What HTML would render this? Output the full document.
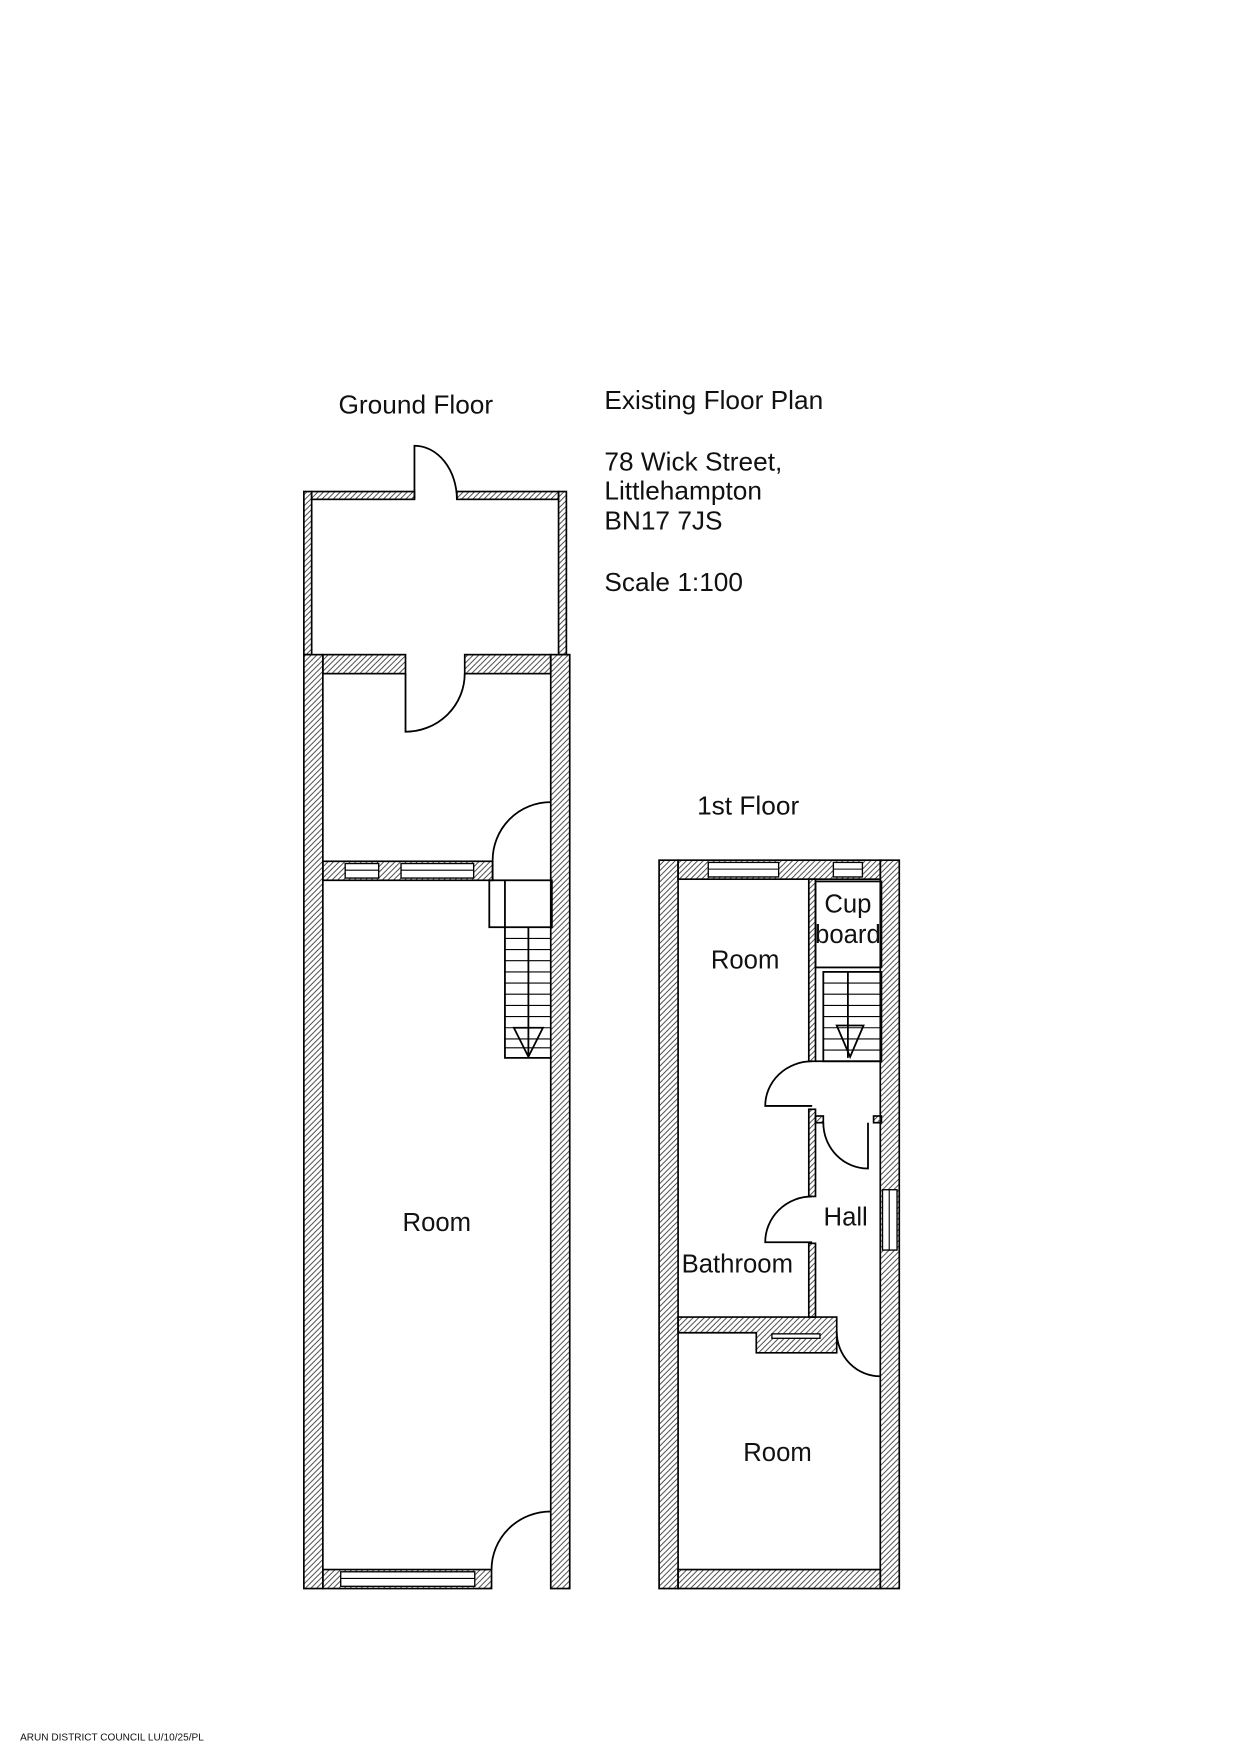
<!DOCTYPE html>
<html><head><meta charset="utf-8"><style>
html,body{margin:0;padding:0;background:#fff;}
svg{display:block;}
text{font-family:"Liberation Sans",Arial,sans-serif;fill:#111;}
</style></head><body>
<svg width="1240" height="1755" viewBox="0 0 1110 1571" xmlns="http://www.w3.org/2000/svg">
<defs>
<pattern id="h" patternUnits="userSpaceOnUse" width="5" height="5">
<line x1="0" y1="5" x2="5" y2="0" stroke="#333" stroke-width="0.8"/>
<line x1="-1" y1="1" x2="1" y2="-1" stroke="#333" stroke-width="0.8"/>
<line x1="4" y1="6" x2="6" y2="4" stroke="#333" stroke-width="0.8"/>
</pattern>
</defs>
<rect width="1110" height="1571" fill="#fff"/>

<text x="303" y="370" font-size="23.5">Ground Floor</text>
<text x="541" y="366" font-size="23.5">Existing Floor Plan</text>
<text x="541" y="421" font-size="23.5">78 Wick Street,</text>
<text x="541" y="447" font-size="23.5">Littlehampton</text>
<text x="541" y="474" font-size="23.5">BN17 7JS</text>
<text x="541" y="529" font-size="23.5">Scale 1:100</text>
<text x="624" y="729" font-size="23.5">1st Floor</text>
<text x="18" y="1558" font-size="9">ARUN DISTRICT COUNCIL LU/10/25/PL</text>

<g stroke="#000" stroke-width="1.5" fill="url(#h)">
<rect x="272" y="440" width="7" height="146"/>
<rect x="500" y="440" width="7" height="146"/>
<rect x="279" y="440" width="92" height="7"/>
<rect x="409" y="440" width="91" height="7"/>
<rect x="272" y="586" width="17" height="836"/>
<rect x="493" y="586" width="17" height="836"/>
<rect x="289" y="586" width="74" height="17"/>
<rect x="416" y="586" width="77" height="17"/>
<rect x="289" y="1405" width="151" height="17"/>
<rect x="289" y="771" width="152" height="17"/>

<rect x="590" y="770" width="17" height="652"/>
<rect x="788" y="770" width="17" height="652"/>
<rect x="607" y="770" width="181" height="17"/>
<rect x="607" y="1405" width="181" height="17"/>
<path d="M607,1179 H749 V1211 H677 V1193 H607 Z"/>
<rect x="724" y="787" width="6" height="163"/>
<rect x="724" y="993" width="6" height="78"/>
<rect x="724" y="1113" width="6" height="66"/>
<rect x="730" y="999" width="7" height="6"/>
<rect x="782" y="999" width="7" height="6"/>
</g>

<g stroke="#000" stroke-width="1.2" fill="#fff">
<rect x="309" y="773" width="30" height="13"/>
<rect x="359" y="773" width="65" height="13"/>
<rect x="305" y="1407" width="120" height="13"/>
<rect x="634" y="772" width="63" height="13"/>
<rect x="746" y="772" width="26" height="13"/>
<rect x="790" y="1065" width="13" height="54"/>
<rect x="691" y="1194" width="43" height="4"/>
</g>
<g stroke="#000" stroke-width="1" fill="none">
<line x1="309" y1="779" x2="339" y2="779"/>
<line x1="359" y1="779" x2="424" y2="779"/>
<line x1="305" y1="1413" x2="425" y2="1413"/>
<line x1="634" y1="778" x2="697" y2="778"/>
<line x1="746" y1="778" x2="772" y2="778"/>
<line x1="796" y1="1065" x2="796" y2="1119"/>
</g>

<g stroke="#000" stroke-width="1.6" fill="none">
<path d="M371,447 V399 A38,48 0 0 1 409,447"/>
<path d="M363,603 V655 A53,52 0 0 0 416,603"/>
<path d="M441,788 V770 A52,52 0 0 1 493,718"/>
<path d="M440,1405 A53,52 0 0 1 493,1353"/>
<rect x="438" y="788" width="56" height="42"/>
<line x1="452" y1="788" x2="452" y2="830"/>
<path d="M452,830 V947 H494"/>
<line x1="473" y1="830" x2="473" y2="947"/>
<g stroke-width="1">
<line x1="452" y1="840" x2="493" y2="840"/>
<line x1="452" y1="850" x2="493" y2="850"/>
<line x1="452" y1="860" x2="493" y2="860"/>
<line x1="452" y1="870" x2="493" y2="870"/>
<line x1="452" y1="880" x2="493" y2="880"/>
<line x1="452" y1="890" x2="493" y2="890"/>
<line x1="452" y1="900" x2="493" y2="900"/>
<line x1="452" y1="910" x2="493" y2="910"/>
<line x1="452" y1="920" x2="493" y2="920"/>
<line x1="452" y1="930" x2="493" y2="930"/>
<line x1="452" y1="938" x2="493" y2="938"/>
</g>
<path d="M460,920 H486 L473,946 Z"/>

<rect x="730" y="789" width="59" height="77"/>
<rect x="737" y="870" width="52" height="80"/>
<line x1="730" y1="950" x2="789" y2="950"/>
<line x1="759" y1="870" x2="759" y2="947"/>
<g stroke-width="1">
<line x1="737" y1="880" x2="789" y2="880"/>
<line x1="737" y1="890" x2="789" y2="890"/>
<line x1="737" y1="900" x2="789" y2="900"/>
<line x1="737" y1="910" x2="789" y2="910"/>
<line x1="737" y1="920" x2="789" y2="920"/>
<line x1="737" y1="930" x2="789" y2="930"/>
<line x1="737" y1="940" x2="789" y2="940"/>
</g>
<path d="M749,918 H773 L761,946 Z"/>
<path d="M727,950 A42,40 0 0 0 685,990 H727"/>
<path d="M727,1071 A42,41 0 0 0 685,1112 H727"/>
<path d="M737,1005 A40,41 0 0 0 777,1046 V1005"/>
<path d="M749,1192 A39,40 0 0 0 788,1232"/>
</g>

<text x="391" y="1102" font-size="23" text-anchor="middle">Room</text>
<text x="667" y="867" font-size="23" text-anchor="middle">Room</text>
<text x="660" y="1139" font-size="23" text-anchor="middle">Bathroom</text>
<text x="757" y="1097" font-size="23" text-anchor="middle">Hall</text>
<text x="759" y="817" font-size="23" text-anchor="middle">Cup</text>
<text x="759" y="844" font-size="23" text-anchor="middle">board</text>
<text x="696" y="1308" font-size="23" text-anchor="middle">Room</text>
</svg>
</body></html>
